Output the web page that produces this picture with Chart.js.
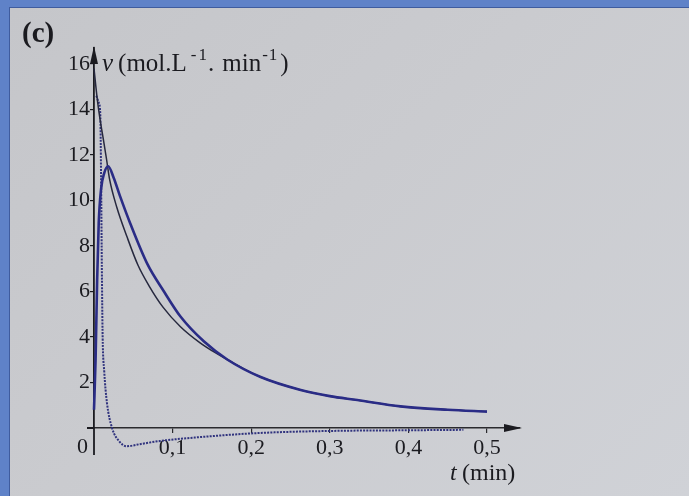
<!DOCTYPE html>
<html>
<head>
<meta charset="utf-8">
<script src="https://cdn.jsdelivr.net/npm/chart.js@4.4.1/dist/chart.umd.min.js"></script>
<style>
    body { margin: 0; }
    #wrap { position: relative; width: 689px; height: 496px; background: #5f82c8; overflow: hidden; }
    #paper {
        position: absolute; left: 9px; top: 7px; right: 0; bottom: 0;
        border-top: 1px solid #3f5c9e; border-left: 1px solid #3f5c9e;
        background: linear-gradient(135deg, #c5c6ca 0%, #cacbcf 45%, #d0d2d7 100%);
    }
    canvas { position: absolute; left: 0; top: 0; }
</style>
</head>
<body>
<div id="wrap">
    <div id="paper"></div>
    <canvas id="chart" width="689" height="496"></canvas>
</div>
<script>
// values (t in min, v in mol/L/min)
const tProduct = [0, 0.002, 0.004, 0.006, 0.009, 0.013, 0.018, 0.025, 0.033, 0.046, 0.068, 0.089, 0.11, 0.14, 0.17, 0.212, 0.263, 0.3, 0.335, 0.39, 0.45, 0.5];
const vProduct = [0.8, 3.0, 6.5, 9.0, 10.5, 11.2, 11.5, 11.0, 10.2, 9.0, 7.2, 6.0, 4.9, 3.8, 3.0, 2.24, 1.67, 1.4, 1.23, 0.95, 0.8, 0.72];

const tReactant = [0, 0.004, 0.008, 0.012, 0.016, 0.02, 0.029, 0.042, 0.056, 0.07, 0.088, 0.11, 0.135, 0.15, 0.17, 0.212, 0.263, 0.3, 0.335, 0.39, 0.45, 0.5];
const vReactant = [15.8, 14.5, 13.5, 12.66, 11.8, 10.9, 9.7, 8.4, 7.15, 6.25, 5.3, 4.45, 3.74, 3.4, 3.0, 2.24, 1.67, 1.4, 1.23, 0.95, 0.8, 0.72];

const tInter = [0.003, 0.006, 0.008, 0.009, 0.01, 0.011, 0.013, 0.0165, 0.023, 0.033, 0.041, 0.06, 0.084, 0.135, 0.21, 0.3, 0.4, 0.47];
const vInter = [14.6, 14.3, 13.8, 11.0, 7.0, 4.0, 2.5, 1.1, 0.0, -0.62, -0.8, -0.7, -0.57, -0.4, -0.22, -0.13, -0.1, -0.08];

const xTicks = [0.1, 0.2, 0.3, 0.4, 0.5];
const yTicks = [2, 4, 6, 8, 10, 12, 14, 16];

const ink = '#1b1b20';
const serif = '"Liberation Serif", "DejaVu Serif", serif';

function points(ts, vs) {
    return ts.map((t, i) => ({ x: t, y: vs[i] }));
}

// arrows, the bits of axis past the origin and the hand-set labels
const figureExtras = {
    id: 'figureExtras',
    afterDraw(chart) {
        const { ctx, chartArea, scales } = chart;
        const x0 = scales.x.getPixelForValue(0);
        const y0 = scales.y.getPixelForValue(0);
        ctx.save();
        ctx.strokeStyle = ink;
        ctx.fillStyle = ink;
        ctx.lineWidth = 1.8;
        ctx.beginPath();
        ctx.moveTo(x0, y0);
        ctx.lineTo(x0, y0 + 27);
        ctx.moveTo(x0, y0);
        ctx.lineTo(x0 - 7, y0);
        ctx.stroke();

        ctx.beginPath();
        ctx.moveTo(x0, chartArea.top - 2);
        ctx.lineTo(x0 - 4, chartArea.top + 16);
        ctx.lineTo(x0 + 4, chartArea.top + 16);
        ctx.closePath();
        ctx.fill();

        ctx.beginPath();
        ctx.moveTo(chartArea.right + 2, y0);
        ctx.lineTo(chartArea.right - 16, y0 - 4);
        ctx.lineTo(chartArea.right - 16, y0 + 4);
        ctx.closePath();
        ctx.fill();

        ctx.textBaseline = 'alphabetic';
        ctx.textAlign = 'left';
        ctx.font = 'bold 29px ' + serif;
        ctx.fillText('(c)', 22, 42);

        ctx.font = '22px ' + serif;
        ctx.fillText('0', 77, 453);

        // y axis title, pieces chained one after another
        let x = 102;
        const base = 71;
        const put = (text, font, dy, gap) => {
            ctx.font = font;
            ctx.fillText(text, x, base + dy);
            x += ctx.measureText(text).width + gap;
        };
        put('v', 'italic 25px ' + serif, 0, 5);
        put('(mol.L', '25px ' + serif, 0, 4);
        put('-', '17px ' + serif, -11, 2);
        put('1', '17px ' + serif, -11, 1);
        put('.', '25px ' + serif, 0, 8);
        put('min', '25px ' + serif, 0, 1);
        put('-', '17px ' + serif, -11, 1);
        put('1', '17px ' + serif, -11, 3);
        put(')', '25px ' + serif, 0, 0);

        ctx.font = 'italic 24px ' + serif;
        ctx.fillText('t', 450, 480);
        ctx.font = '24px ' + serif;
        ctx.fillText('(min)', 462, 480);
        ctx.restore();
    }
};

new Chart(document.getElementById('chart'), {
    type: 'line',
    data: {
        datasets: [
            {
                data: points(tProduct, vProduct),
                borderColor: '#2a2c86',
                borderWidth: 2.6,
                cubicInterpolationMode: 'monotone',
                pointRadius: 0,
                clip: false
            },
            {
                data: points(tReactant, vReactant),
                borderColor: '#26283e',
                borderWidth: 1.5,
                cubicInterpolationMode: 'monotone',
                pointRadius: 0,
                clip: false
            },
            {
                data: points(tInter, vInter),
                borderColor: '#30337e',
                borderWidth: 2,
                borderDash: [2, 1.2],
                cubicInterpolationMode: 'monotone',
                pointRadius: 0,
                clip: false
            }
        ]
    },
    options: {
        responsive: false,
        animation: false,
        layout: { padding: { left: 44, top: 48, right: 169, bottom: 28 } },
        plugins: { legend: { display: false }, tooltip: { enabled: false } },
        scales: {
            x: {
                type: 'linear',
                min: 0,
                max: 0.542,
                afterFit: (scale) => { scale.height = 40; },
                afterBuildTicks: (scale) => { scale.ticks = xTicks.map(v => ({ value: v })); },
                border: { display: true, color: '#2a2a2e', width: 1.5 },
                grid: { display: true, drawOnChartArea: false, drawTicks: true, tickLength: 5, color: '#2a2a2e', lineWidth: 1.2 },
                ticks: {
                    autoSkip: false,
                    maxRotation: 0,
                    padding: 2,
                    color: ink,
                    font: { family: serif, size: 22 },
                    callback: (v) => v.toFixed(1).replace('.', ',')
                }
            },
            y: {
                type: 'linear',
                min: 0,
                max: 16.7,
                afterFit: (scale) => { scale.width = 50; },
                afterBuildTicks: (scale) => { scale.ticks = yTicks.map(v => ({ value: v })); },
                border: { display: true, color: ink, width: 1.8 },
                grid: { display: true, drawOnChartArea: false, drawTicks: true, tickLength: 4, color: ink, lineWidth: 1.2 },
                ticks: {
                    padding: 0,
                    color: ink,
                    font: { family: serif, size: 22 },
                    callback: (v) => String(v)
                }
            }
        }
    },
    plugins: [figureExtras]
});
</script>
</body>
</html>
